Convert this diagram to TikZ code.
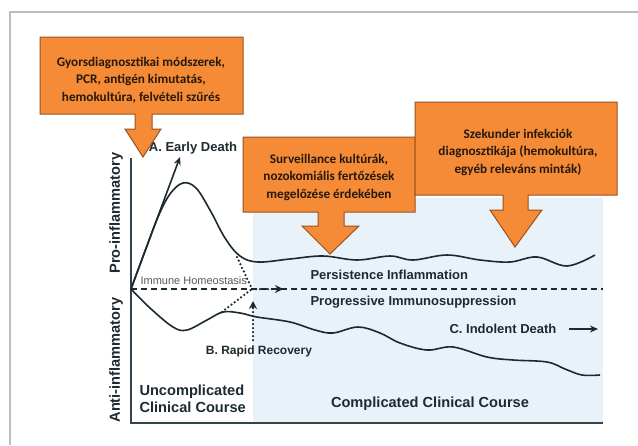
\documentclass[tikz,border=0pt]{standalone}
\usepackage{fontspec}
\setmainfont{Liberation Sans}
\newfontfamily\callfont{Carlito}
\usetikzlibrary{arrows.meta}
\definecolor{calloutfill}{HTML}{F58B36}
\definecolor{calloutedge}{HTML}{9A5220}
\definecolor{axiscol}{HTML}{33454C}
\definecolor{curvecol}{HTML}{1B2A30}
\definecolor{bluebg}{HTML}{EAF2F9}
\definecolor{labcol}{HTML}{1E2A30}
\definecolor{framecol}{HTML}{BDBDBD}
\tikzset{
  callout/.style={fill=calloutfill, draw=calloutedge, line width=1pt, line join=miter},
  calltext/.style={font=\callfont\bfseries\fontsize{13.2}{17.5}\selectfont, text=black!80!brown, align=center},
  biglab/.style={font=\bfseries\fontsize{14.6}{17}\selectfont, text=labcol},
  midlab/.style={font=\bfseries\fontsize{13}{15}\selectfont, text=labcol},
  curve/.style={draw=curvecol, line width=1.6pt},
  dotl/.style={draw=curvecol, line width=2.5pt, line cap=round, dash pattern=on 0pt off 4pt},
  dotarrow/.style={draw=curvecol, line width=1.4pt},
}
\begin{document}
\begin{tikzpicture}[x=1pt,y=-1pt]
\useasboundingbox (0,0) rectangle (638,445);
\fill[white] (0,0) rectangle (638,445);
% outer frame
\draw[framecol, line width=1.6pt] (10,445) -- (10,12) -- (638,12);
% blue background
\fill[bluebg] (253,198) rectangle (603,423);
% axes
\draw[axiscol, line width=1.8pt] (131,158) -- (131,423) -- (603,423);
% axis labels
\node[biglab, rotate=90] (pro) at (116,213) {Pro-inflammatory};
\node[biglab, rotate=90] (anti) at (116,360) {Anti-inflammatory};
% homeostasis dashed line
\coordinate (orig) at (131,289);
\coordinate (hend) at (603,289);
\draw[curvecol, line width=1.3pt, dash pattern=on 6pt off 4pt] (orig) -- (hend);
\node[font=\fontsize{11}{13}\selectfont, text=black!65, anchor=west] (homeo) at (137,281) {Immune Homeostasis};
% upper curve
\draw[curve] plot[smooth, tension=0.6] coordinates {(131,289) (145,251) (158,217) (170,194) (183,183) (196,188) (210,210) (225,238) (240,256) (258,262) (290,259) (323,256) (357,260) (390,256) (413,260) (447,255) (480,260) (510,262) (537,257) (567,266) (595,255)};
% early death arrow
\coordinate (ed) at (180,157);
\draw[curve, -{Stealth[length=8pt,width=7pt]}] (orig) -- (ed);
\node[midlab] (earlyd) at (193,148) {A. Early Death};
% lower curve
\draw[curve] plot[smooth, tension=0.6] coordinates {(131,289) (150,308) (173,327) (187,330) (207,320) (223,312) (240,313) (257,317) (290,322) (315,330) (333,333) (358,327) (380,333) (400,343) (427,350) (453,347) (487,357) (513,360) (547,362) (565,369) (582,375) (600,375)};
% dotted recovery lines
\coordinate (meet) at (252,289);
\coordinate (up1) at (237,257);
\coordinate (lo1) at (222,312);
\coordinate (rr) at (283,289);
\coordinate (rrb) at (253,340);
\coordinate (rrt) at (253,301);
\draw[dotl] (up1) -- (meet);
\draw[dotl] (lo1) -- (meet);
\draw[dotl] (meet) -- (rr);
\draw[dotl] (rrb) -- (rrt);
\draw[dotarrow, -{Stealth[length=8pt,width=8pt]}] (276,289) -- (rr);
\draw[dotarrow, -{Stealth[length=8pt,width=8pt]}] (253,308) -- (rrt);
\node[font=\bfseries\fontsize{12}{14}\selectfont, text=labcol] (rapid) at (259,351) {B. Rapid Recovery};
% labels in graph
\node[midlab, anchor=west] (persist) at (307,275) {Persistence Inflammation};
\node[midlab, anchor=west] (progr) at (307,302) {Progressive Immunosuppression};
\node[midlab, anchor=west] (indol) at (446,329) {C. Indolent Death};
\coordinate (ia1) at (569,329);
\coordinate (ia2) at (598,329);
\draw[curve, -{Stealth[length=8pt,width=7pt]}] (ia1) -- (ia2);
\node[biglab] (compl) at (430,404) {Complicated Clinical Course};
\node[biglab, align=left, anchor=west] (uncompl) at (136,399) {Uncomplicated\\Clinical Course};
% callout 1
\draw[callout] (40,37) -- (243,37) -- (243,114) -- (152,114) -- (152,129) -- (161,129) -- (143,157) -- (125,129) -- (135,129) -- (135,114) -- (40,114) -- cycle;
\node[calltext] (c1) at (141,80) {Gyorsdiagnosztikai módszerek,\\PCR, antigén kimutatás,\\hemokultúra, felvételi szűrés};
% callout 2
\draw[callout] (243,137) -- (415,137) -- (415,212) -- (344,212) -- (344,226) -- (359,226) -- (330,254) -- (302,226) -- (318,226) -- (318,212) -- (243,212) -- cycle;
\node[calltext] (c2) at (329,177) {Surveillance kultúrák,\\nozokomiális fertőzések\\megelőzése érdekében};
% callout 3
\draw[callout] (415,102) -- (617,102) -- (617,195) -- (528,195) -- (528,210) -- (542,210) -- (515,247) -- (490,210) -- (503,210) -- (503,195) -- (415,195) -- cycle;
\node[calltext] (c3) at (518,152) {Szekunder infekciók\\diagnosztikája (hemokultúra,\\egyéb releváns minták)};
\end{tikzpicture}
\end{document}
